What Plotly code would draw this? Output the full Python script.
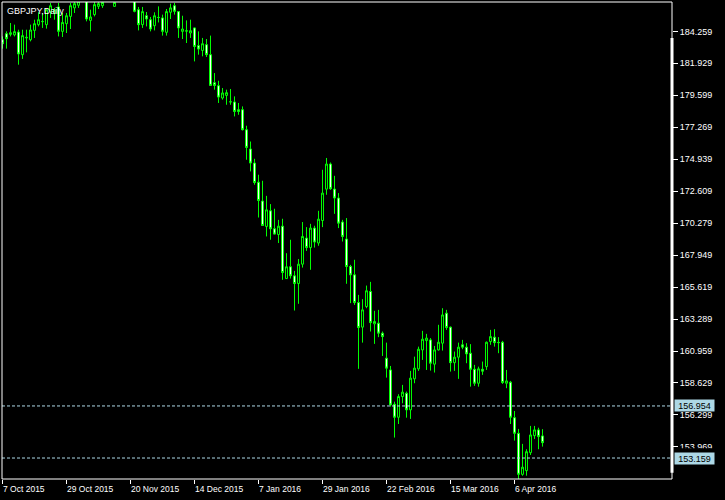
import plotly.graph_objects as go

# ---- data ----
opens = [183.65, 184.09, 184.04, 184.00, 184.21, 182.56, 183.78, 183.65, 184.33, 184.75,
         184.99, 184.75, 185.70, 185.55, 186.04, 184.26, 184.82, 185.35, 185.97, 186.16,
         186.60, 186.70, 185.06, 185.48, 186.08, 186.13, 186.55, 186.90, 186.08, 186.80,
         187.30, 187.10, 187.40, 186.60, 185.84, 184.75, 185.40, 185.11, 184.67, 185.28,
         185.24, 184.19, 185.65, 186.13, 185.70, 184.26, 184.30, 184.14, 184.51, 183.22,
         182.87, 183.29, 182.56, 180.52, 180.30, 179.40, 179.59, 179.13, 179.11, 178.55,
         178.55, 177.09, 175.68, 174.66, 173.27, 171.89, 170.04, 171.18, 169.87, 169.45,
         170.06, 166.24, 167.10, 166.44, 165.88, 167.29, 169.19, 168.50, 169.92, 168.83,
         170.47, 172.76, 174.59, 172.76, 172.11, 170.36, 169.12, 167.12, 166.51, 164.49,
         162.70, 164.20, 165.30, 162.94, 162.99, 162.26, 160.44, 159.58, 157.08, 156.13,
         157.64, 157.88, 156.67, 158.93, 159.66, 161.04, 161.72, 161.77, 160.00, 161.04,
         161.53, 163.72, 162.70, 160.11, 160.51, 161.41, 161.24, 160.80, 159.63, 158.61,
         159.63, 159.82, 161.65, 161.97, 161.59, 161.60, 158.61, 158.69, 156.10, 154.96,
         151.97, 152.24, 153.55, 154.79, 155.21, 154.77]
highs = [183.89, 184.26, 184.87, 184.75, 184.38, 184.38, 184.38, 184.75, 185.11, 185.65,
         185.60, 185.89, 186.33, 185.97, 186.33, 185.60, 185.60, 186.33, 186.45, 186.70,
         187.00, 187.00, 185.84, 186.45, 186.45, 186.50, 187.10, 187.40, 186.60, 187.50,
         187.60, 187.70, 187.60, 187.00, 186.04, 186.04, 185.67, 185.31, 185.65, 186.08,
         185.48, 185.89, 186.28, 186.33, 185.72, 185.40, 185.06, 185.11, 184.53, 184.26,
         183.78, 183.70, 183.95, 181.22, 180.66, 180.13, 180.01, 180.06, 179.52, 179.04,
         178.79, 177.38, 176.23, 174.97, 173.81, 173.37, 172.27, 171.67, 171.33, 170.52,
         170.60, 168.09, 169.07, 166.80, 167.66, 170.36, 169.99, 170.23, 170.09, 171.18,
         174.17, 175.03, 174.70, 173.73, 172.47, 170.52, 170.65, 167.24, 167.61, 165.05,
         164.74, 165.73, 166.00, 163.89, 163.96, 162.38, 161.57, 159.87, 157.27, 157.81,
         158.49, 158.00, 159.51, 160.55, 161.28, 162.43, 162.21, 161.90, 161.33, 162.87,
         164.08, 163.96, 162.74, 160.92, 161.57, 161.77, 161.53, 161.46, 159.95, 159.82,
         160.19, 161.65, 162.50, 162.55, 161.97, 161.70, 159.58, 158.78, 156.59, 155.28,
         154.19, 153.80, 155.50, 155.50, 155.37, 155.26]
lows = [183.00, 183.00, 183.89, 183.89, 181.83, 182.25, 182.73, 183.53, 183.78, 184.62,
        184.51, 184.46, 185.24, 185.11, 183.89, 183.85, 184.14, 184.43, 185.60, 185.97,
        186.50, 184.99, 184.26, 185.35, 185.89, 185.97, 186.45, 186.60, 186.04, 186.60,
        186.80, 186.90, 186.60, 185.65, 184.33, 184.51, 184.62, 184.26, 184.33, 184.91,
        183.95, 183.95, 185.16, 185.48, 183.78, 183.70, 183.41, 183.78, 182.07, 182.56,
        182.44, 182.39, 180.30, 180.01, 179.04, 179.28, 178.91, 178.91, 178.06, 178.18,
        177.04, 174.90, 174.05, 173.08, 170.69, 170.09, 169.31, 169.07, 169.46, 168.83,
        166.15, 166.22, 166.24, 163.91, 164.40, 167.04, 168.26, 166.88, 168.50, 168.63,
        169.99, 172.35, 172.71, 170.96, 169.92, 168.94, 165.86, 164.45, 164.32, 159.66,
        161.57, 164.08, 162.38, 161.48, 161.97, 160.60, 159.02, 156.91, 154.65, 155.64,
        157.15, 156.10, 156.01, 158.61, 159.51, 160.31, 159.58, 159.53, 159.39, 160.99,
        160.99, 162.50, 159.46, 159.51, 158.93, 161.09, 160.07, 158.36, 158.42, 158.36,
        159.22, 159.58, 161.41, 161.28, 160.80, 158.56, 158.25, 155.64, 154.43, 151.55,
        151.87, 151.87, 153.38, 154.55, 153.80, 153.99]
closes = [183.36, 183.73, 184.16, 184.24, 182.61, 183.95, 183.82, 184.36, 184.82, 185.11,
          184.97, 185.84, 186.13, 185.84, 184.26, 184.91, 185.40, 186.13, 186.28, 186.45,
          186.85, 185.16, 185.31, 186.21, 186.28, 186.37, 186.90, 187.20, 186.37, 187.30,
          187.10, 187.40, 186.80, 185.72, 184.75, 185.70, 185.16, 184.43, 185.40, 185.27,
          184.26, 185.70, 185.97, 185.72, 184.51, 184.43, 184.28, 184.31, 183.16, 182.97,
          183.36, 182.56, 180.32, 180.32, 179.47, 179.77, 179.79, 179.12, 178.42, 178.42,
          177.09, 175.80, 174.66, 173.24, 171.93, 170.11, 171.25, 169.87, 169.48, 170.06,
          166.68, 167.10, 166.44, 165.88, 167.29, 169.31, 168.50, 169.92, 168.90, 170.57,
          172.47, 174.59, 172.79, 172.11, 170.28, 169.31, 167.12, 166.51, 164.49, 162.67,
          163.96, 165.35, 163.03, 163.11, 162.26, 162.01, 159.71, 157.03, 156.13, 157.64,
          157.96, 156.67, 158.98, 159.71, 161.09, 161.82, 161.90, 160.07, 161.04, 161.60,
          163.59, 162.67, 160.11, 160.51, 161.24, 161.24, 160.75, 159.63, 158.61, 159.66,
          159.49, 161.60, 162.01, 161.57, 161.57, 158.66, 158.78, 156.13, 154.96, 151.97,
          152.49, 153.62, 154.84, 155.21, 154.72, 154.28]

date_tick_bars = [0, 16, 32, 48, 64, 80, 96, 112, 128]
date_tick_labels = ["7 Oct 2015", "29 Oct 2015", "20 Nov 2015", "14 Dec 2015", "7 Jan 2016",
                    "29 Jan 2016", "22 Feb 2016", "15 Mar 2016", "6 Apr 2016"]
price_ticks = [184.259, 181.929, 179.599, 177.269, 174.939, 172.609, 170.279, 167.949,
               165.619, 163.289, 160.959, 158.629, 156.299, 153.969]
level_lines = [156.954, 153.159]
title_text = "GBPJPY,Daily"

bars = list(range(len(opens)))
GREEN = "#00FF00"
LEVEL = "#ADD8E6"
FONT = "Liberation Sans, Arial, sans-serif"

fig = go.Figure()
fig.add_trace(go.Candlestick(
    x=bars, open=opens, high=highs, low=lows, close=closes,
    increasing=dict(line=dict(color=GREEN, width=1), fillcolor="#000000"),
    decreasing=dict(line=dict(color=GREEN, width=1), fillcolor="#FFFFFF"),
    whiskerwidth=0, showlegend=False, hoverinfo="skip",
))

shapes = []
for lv in level_lines:
    shapes.append(dict(type="line", xref="paper", x0=0, x1=1, yref="y", y0=lv, y1=lv,
                       line=dict(color=LEVEL, width=1, dash="3px,2px"), layer="above"))
# frame
shapes.append(dict(type="rect", xref="paper", yref="paper", x0=0, x1=1, y0=0, y1=1,
                   line=dict(color="#FFFFFF", width=1), layer="above"))
# thick scale bar on right edge
shapes.append(dict(type="line", xref="paper", yref="paper", x0=1, x1=1, y0=0.0132, y1=0.9245,
                   line=dict(color="#FFFFFF", width=3), layer="above"))
# black strip where the lower level label clears the price scale
shapes.append(dict(type="rect", xref="paper", yref="paper", x0=1.0045, x1=1.07,
                   y0=0.0560, y1=0.0645, fillcolor="#000000", line=dict(width=0),
                   layer="above"))

annotations = [dict(text=title_text, xref="paper", yref="paper", x=0, y=1, xanchor="left",
                    yanchor="top", xshift=3, yshift=-2, showarrow=False,
                    font=dict(family=FONT, size=9, color="#FFFFFF"))]
for b, lab in zip(date_tick_bars, date_tick_labels):
    annotations.append(dict(text=lab, xref="x", yref="paper", x=b, y=0, xanchor="left",
                            yanchor="middle", yshift=-10, xshift=-2, showarrow=False,
                            font=dict(family=FONT, size=8.5, color="#FFFFFF")))
for lv in level_lines:
    annotations.append(dict(text=f"{lv:.3f}", xref="paper", yref="y", x=1, y=lv,
                            xanchor="left", yanchor="middle", xshift=2, showarrow=False,
                            bgcolor=LEVEL, borderpad=0, width=39, height=11,
                            font=dict(family=FONT, size=9, color="#000000")))

fig.update_layout(
    width=725, height=500,
    margin=dict(l=2, r=53, t=2, b=21, pad=0),
    paper_bgcolor="#000000", plot_bgcolor="#000000",
    shapes=shapes, annotations=annotations,
    showlegend=False,
    xaxis=dict(range=[-0.125, 167.375], showgrid=False, zeroline=False, showline=False,
               rangeslider=dict(visible=False), tickmode="array", tickvals=date_tick_bars,
               ticks="outside", ticklen=4, tickcolor="#FFFFFF", showticklabels=False),
    yaxis=dict(range=[151.63, 186.40], side="right", showgrid=False, zeroline=False,
               showline=False, tickmode="array", tickvals=price_ticks,
               ticktext=[f"{v:.3f}" for v in price_ticks], ticks="outside", ticklen=5,
               tickcolor="#FFFFFF", tickfont=dict(family=FONT, size=9, color="#FFFFFF")),
)

fig.write_html("out.html", config={"displayModeBar": False},
               post_script="document.body.style.margin='0';document.body.style.background='#000';")
